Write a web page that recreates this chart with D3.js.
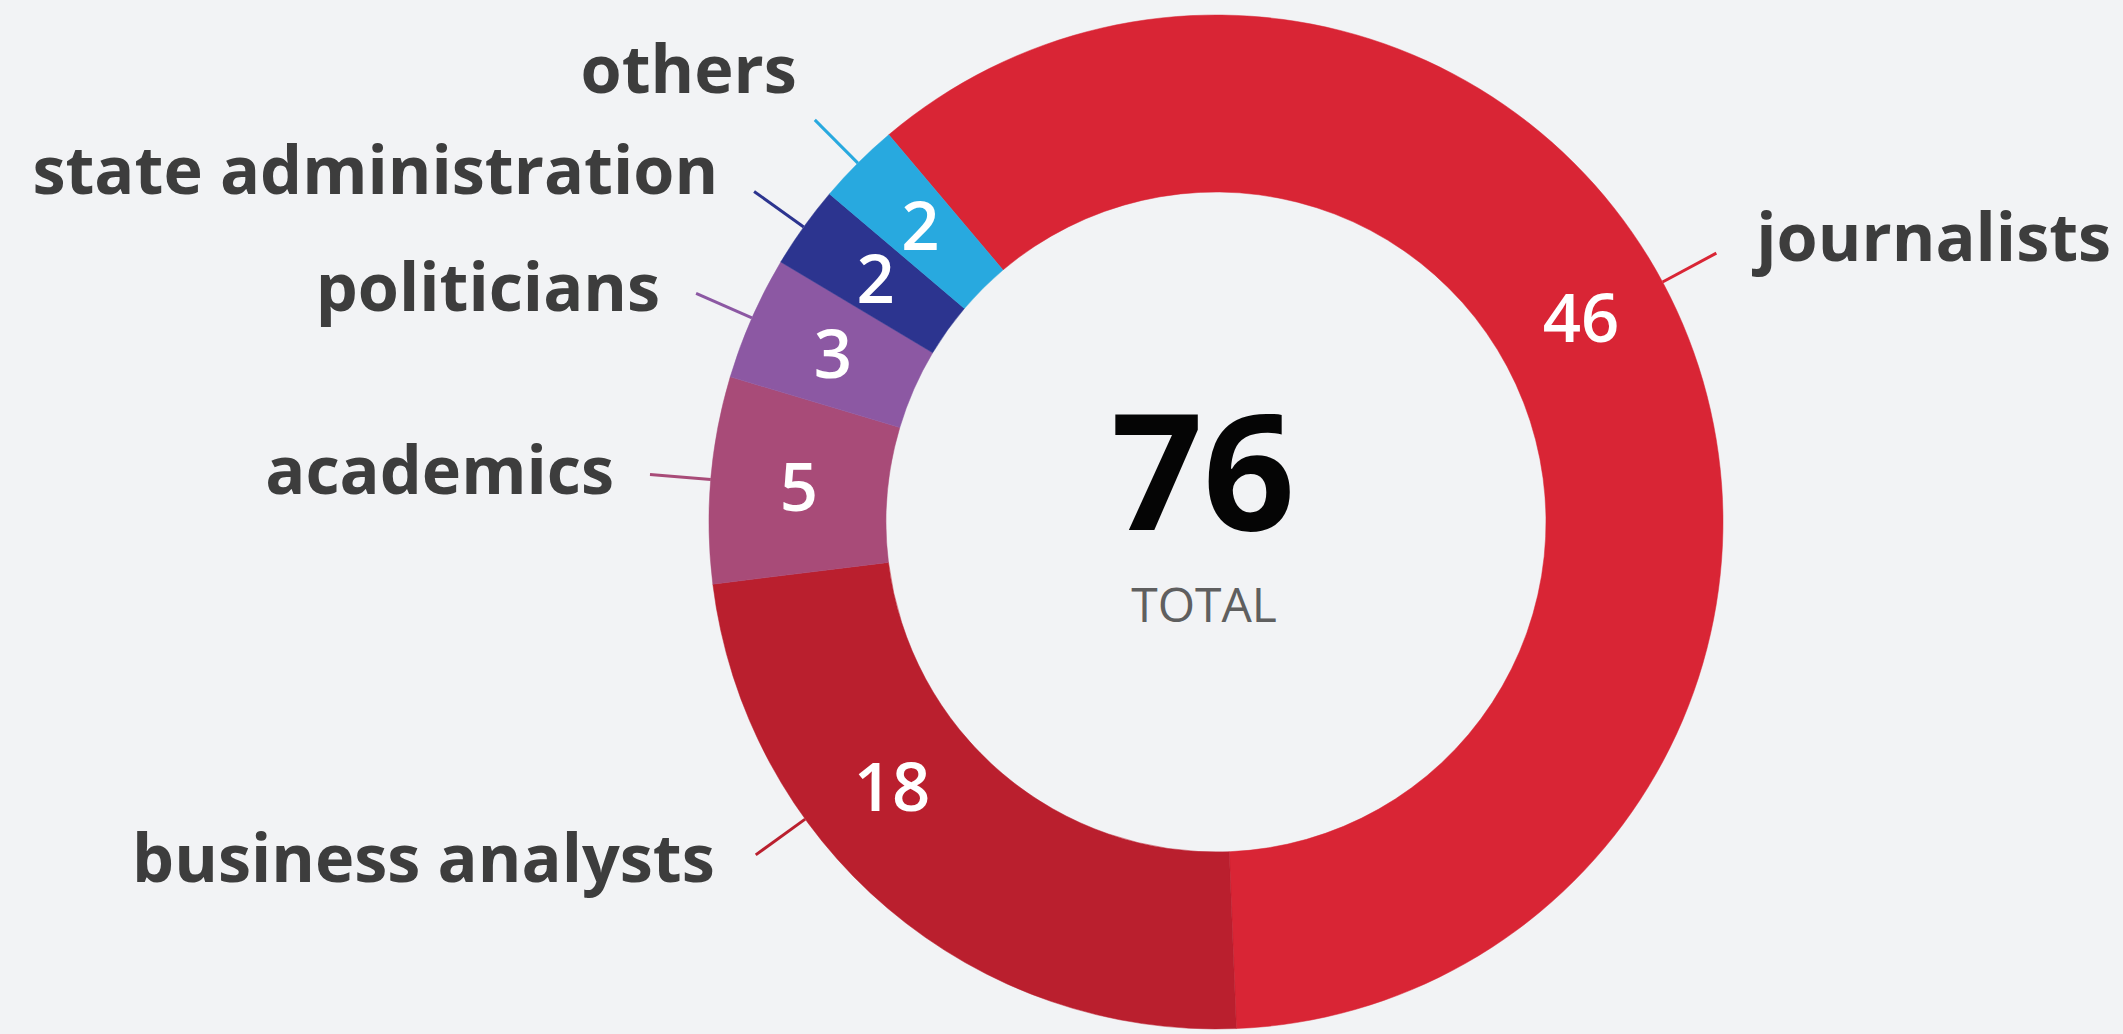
<!DOCTYPE html>
<html>
<head>
<meta charset="utf-8">
<script src="https://cdn.jsdelivr.net/npm/d3@7"></script>
<style>
  html, body { margin: 0; padding: 0; background: #f2f3f5; }
  svg { display: block; font-family: "Open Sans", sans-serif; }
</style>
</head>
<body>
<svg id="donut"></svg>
<script>
// categories and their counts
const categories = ["journalists", "business analysts", "academics", "politicians", "state administration", "others"];
const counts = [46, 18, 5, 3, 2, 2];
const colors = ["#d92535", "#ba1f2e", "#a84b78", "#8c58a3", "#2c348f", "#28a9df"];
const totalLabel = "TOTAL";

let width = 2123, height = 1034;
let cx = 1216, cy = 522;
let outerR = 507, innerR = 330;

let svg = d3.select("#donut")
	.attr("width", width)
	.attr("height", height);

let data = categories.map((c, i) => ({name: c, value: counts[i], color: colors[i]}));
let total = d3.sum(counts);

// journalists start a bit left of the top, going clockwise
let start = -40.2 * Math.PI / 180;
let pie = d3.pie()
	.sort(null)
	.value(d => d.value)
	.startAngle(start)
	.endAngle(start + 2 * Math.PI);

let arc = d3.arc().innerRadius(innerR).outerRadius(outerR);

// the two big slices have their labels pulled off the middle (degrees)
let leaderShift = {"journalists": -7.0, "business analysts": 13.8};
let valueShift = {"journalists": -8.0, "business analysts": 10.4};
// hand placed name labels, relative to the end of the leader line
let nameNudge = {
	"journalists": [4, -12],
	"others": [18, -47],
	"state administration": [0, -17],
	"politicians": [0, -2],
	"business analysts": [-5, 7]
};

let rad = Math.PI / 180;
let arcs = pie(data);
arcs.forEach(a => {
	let mid = (a.startAngle + a.endAngle) / 2;
	a.leaderAngle = mid + (leaderShift[a.data.name] || 0) * rad;
	a.valueAngle = mid + (valueShift[a.data.name] || 0) * rad;
});

function polar(r, ang) {
	return [r * Math.sin(ang), -r * Math.cos(ang)];
}

let g = svg.append("g").attr("transform", "translate(" + cx + "," + cy + ")");

g.selectAll("path.slice")
	.data(arcs)
	.enter()
	.append("path")
	.attr("class", "slice")
	.attr("d", arc)
	.attr("fill", d => d.data.color)
	.attr("stroke", d => d.data.color)
	.attr("stroke-width", 0.5);

// leader lines
let lineLen = 61;
g.selectAll("line.leader")
	.data(arcs)
	.enter()
	.append("line")
	.attr("class", "leader")
	.attr("x1", d => polar(outerR, d.leaderAngle)[0])
	.attr("y1", d => polar(outerR, d.leaderAngle)[1])
	.attr("x2", d => polar(outerR + lineLen, d.leaderAngle)[0])
	.attr("y2", d => polar(outerR + lineLen, d.leaderAngle)[1])
	.attr("stroke", d => d.data.color)
	.attr("stroke-width", 3);

// category names
function namePos(d) {
	let p = polar(outerR + lineLen, d.leaderAngle);
	let left = Math.sin(d.leaderAngle) < 0;
	let n = nameNudge[d.data.name] || [0, 0];
	return [p[0] + (left ? -36 : 36) + n[0], p[1] + 20 + n[1]];
}

g.selectAll("text.name")
	.data(arcs)
	.enter()
	.append("text")
	.attr("class", "name")
	.attr("x", d => namePos(d)[0])
	.attr("y", d => namePos(d)[1])
	.attr("text-anchor", d => Math.sin(d.leaderAngle) < 0 ? "end" : "start")
	.style("font-size", "66.5px")
	.style("font-weight", 700)
	.style("fill", "#3d3d3d")
	.text(d => d.data.name);

// values inside the ring
let midR = (innerR + outerR) / 2;
g.selectAll("text.value")
	.data(arcs)
	.enter()
	.append("text")
	.attr("class", "value")
	.attr("x", d => polar(midR, d.valueAngle)[0])
	.attr("y", d => polar(midR, d.valueAngle)[1])
	.attr("dy", "0.36em")
	.attr("text-anchor", "middle")
	.style("font-size", "67px")
	.style("font-weight", 600)
	.style("fill", "#ffffff")
	.text(d => d.data.value);

// total in the hole
g.append("text")
	.attr("x", -13)
	.attr("y", 8)
	.attr("text-anchor", "middle")
	.style("font-size", "161px")
	.style("font-weight", 700)
	.style("fill", "#050505")
	.text(total);

g.append("text")
	.attr("x", -12)
	.attr("y", 100)
	.attr("text-anchor", "middle")
	.style("font-size", "48px")
	.style("fill", "#5f5f5f")
	.text(totalLabel);
</script>
</body>
</html>
